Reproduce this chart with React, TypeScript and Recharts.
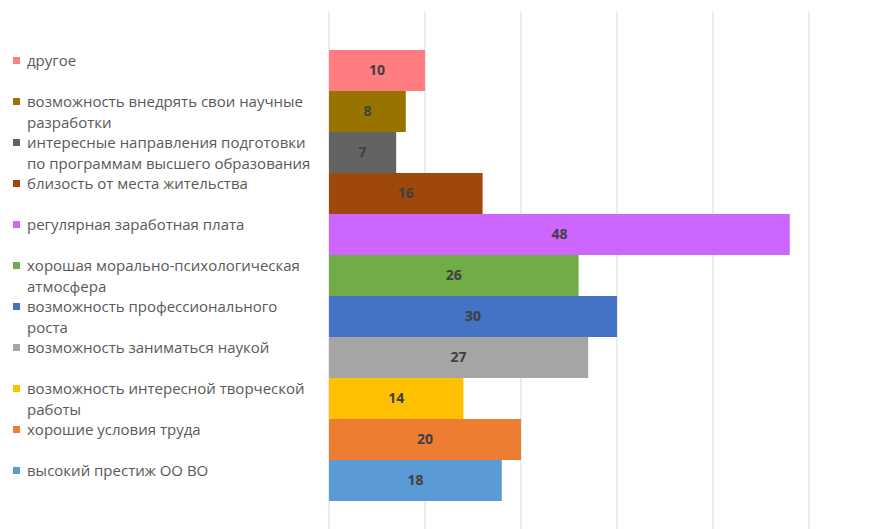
import { BarChart, Bar, XAxis, YAxis, CartesianGrid, LabelList } from "recharts";

const categories = [
    "другое",
    "возможность внедрять свои научные разработки",
    "интересные направления подготовки по программам высшего образования",
    "близость от места жительства",
    "регулярная заработная плата",
    "хорошая морально-психологическая атмосфера",
    "возможность профессионального роста",
    "возможность заниматься наукой",
    "возможность интересной творческой работы",
    "хорошие условия труда",
    "высокий престиж ОО ВО",
];

const values = [10, 8, 7, 16, 48, 26, 30, 27, 14, 20, 18];

const colors = [
    "#FF7C80",
    "#997300",
    "#636363",
    "#9E480E",
    "#CC66FF",
    "#70AD47",
    "#4472C4",
    "#A5A5A5",
    "#FFC000",
    "#ED7D31",
    "#5B9BD5",
];

const xTicks = [0, 10, 20, 30, 40, 50];

const row: Record<string, string | number> = { name: "" };
values.forEach((v, i) => {
    row[`s${i}`] = v;
});
const data = [row];

const font = "'Open Sans', sans-serif";

export default function App() {
    return (
        <div
            style={{
                position: "absolute",
                left: 0,
                top: 0,
                width: 891,
                height: 529,
                overflow: "hidden",
                background: "#fff",
                fontFamily: font,
            }}
        >
            <BarChart
                layout="vertical"
                width={891}
                height={539}
                data={data}
                margin={{ top: 12, right: 82, bottom: 0, left: 329 }}
                barGap={0}
            >
                <CartesianGrid horizontal={false} stroke="#D9D9D9" />
                <XAxis type="number" domain={[0, 50]} ticks={xTicks} hide />
                <YAxis type="category" dataKey="name" hide />
                {categories.map((c, i) => (
                    <Bar
                        key={c}
                        dataKey={`s${i}`}
                        name={c}
                        fill={colors[i]}
                        barSize={41}
                        isAnimationActive={false}
                    >
                        <LabelList
                            dataKey={`s${i}`}
                            position="center"
                            fill="#404040"
                            fontSize={14}
                            fontWeight="bold"
                            fontFamily={font}
                        />
                    </Bar>
                ))}
            </BarChart>

            {/* legend, one entry per bar, lined up with the bars */}
            <div style={{ position: "absolute", left: 0, top: 50 }}>
                {categories.map((c, i) => (
                    <div
                        key={c}
                        style={{
                            position: "relative",
                            height: 41,
                            width: 329,
                        }}
                    >
                        <span
                            style={{
                                position: "absolute",
                                left: 13,
                                top: 7,
                                width: 7,
                                height: 7,
                                background: colors[i],
                            }}
                        />
                        <div
                            style={{
                                position: "absolute",
                                left: 27,
                                top: 0,
                                width: 290,
                                fontSize: 15,
                                lineHeight: "21px",
                                color: "#595959",
                            }}
                        >
                            {c}
                        </div>
                    </div>
                ))}
            </div>
        </div>
    );
}
